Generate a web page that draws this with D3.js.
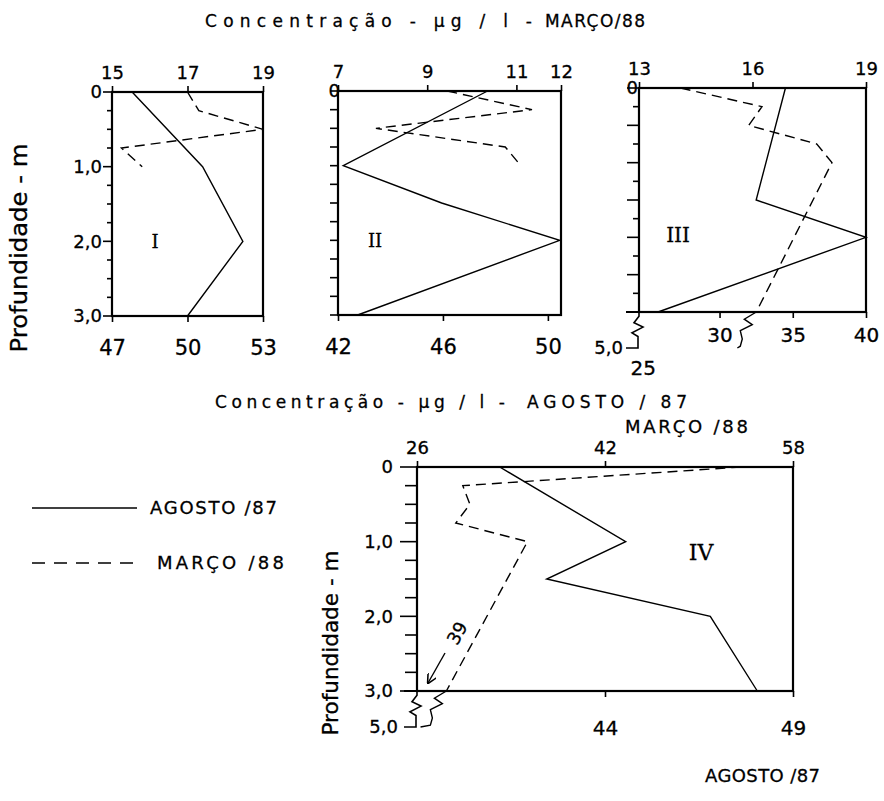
<!DOCTYPE html>
<html lang="pt">
<head>
<meta charset="UTF-8">
<title>Concentração x Profundidade</title>
<script src="https://cdn.jsdelivr.net/npm/d3@7"></script>
<style>
    body { margin: 0; background: #fff; }
    svg text { font-family: "DejaVu Sans", sans-serif; fill: #000; stroke: #000; stroke-width: 0.3px; }
    svg .roman { font-family: "DejaVu Serif", "Liberation Serif", serif; }
</style>
</head>
<body>
<div id="chart"></div>
<script>
    const width = 884
    const height = 801

    // depth (m) / concentration (ug/l)
    // I
    const agostoDepth1 = [0, 1, 2, 3]
    const agosto1 = [47.8, 50.6, 52.2, 50.0]
    const marcoDepth1 = [0, 0.25, 0.5, 0.75, 1]
    const marco1 = [17.0, 17.3, 19.0, 15.25, 15.8]
    // II
    const agostoDepth2 = [0, 1, 1.5, 2, 3]
    const agosto2 = [47.7, 42.2, 45.95, 50.45, 42.75]
    const marcoDepth2 = [0, 0.25, 0.5, 0.75, 1]
    const marco2 = [9.45, 11.35, 7.85, 10.75, 11.1]
    // III
    const agostoDepth3 = [0, 1.5, 2, 3]
    const agosto3 = [34.5, 32.5, 40.0, 25.8]
    const marcoDepth3 = [0, 0.25, 0.5, 0.75, 1, 3, 5]
    const marco3 = [14.1, 16.25, 15.9, 17.7, 18.1, 16.1, 15.6]
    // IV
    const agostoDepth4 = [0, 1, 1.5, 2, 3]
    const agosto4 = [41.2, 44.55, 42.45, 46.8, 48.05]
    const marcoDepth4 = [0, 0.25, 0.5, 0.75, 1, 3, 5]
    const marco4 = [53.6, 29.9, 30.5, 29.3, 35.4, 28.5, 26.3]

    // tick labels
    const topTicks1 = [15, 17, 19]
    const botTicks1 = [47, 50, 53]
    const topTicks2 = [7, 9, 11, 12]
    const botTicks2 = [42, 46, 50]
    const topTicks3 = [13, 16, 19]
    const botTicks3 = [30, 35, 40]
    const topTicks4 = [26, 42, 58]
    const botTicks4 = [44, 49]
    const depthTicks = d3.range(0, 3.01, 0.25)

    const panels = [
        {
            x0: 112, x1: 263, y0: 92, roman: "I", romanX: 155, romanY: 248, romanSize: 18,
            topDomain: [15, 19], topTicks: topTicks1, botDomain: [47, 53], botTicks: botTicks1,
            botFont: 21, botSpacing: 24, labelDepths: [0, 1, 2, 3], labelGap: 10,
            majorStep: 1, majorLen: 9, minorLen: 5, extended: false,
            agosto: d3.zip(agostoDepth1, agosto1), marco: d3.zip(marcoDepth1, marco1)
        },
        {
            x0: 338, x1: 561, y0: 91, roman: "II", romanX: 375, romanY: 247, romanSize: 18,
            topDomain: [7, 12], topTicks: topTicks2, botDomain: [42, 50.5], botTicks: botTicks2,
            botFont: 21, botSpacing: 24, labelDepths: [0], labelGap: -2,
            majorStep: 1, majorLen: 8, minorLen: 8, extended: false,
            agosto: d3.zip(agostoDepth2, agosto2), marco: d3.zip(marcoDepth2, marco2)
        },
        {
            x0: 639, x1: 866, y0: 88, roman: "III", romanX: 678, romanY: 242, romanSize: 20,
            topDomain: [13, 19], topTicks: topTicks3, botDomain: [24.5, 40], botTicks: botTicks3,
            botFont: 20, botSpacing: 16, labelDepths: [0], labelGap: 1, extLabelGap: 16,
            majorStep: 0.5, majorLen: 12, minorLen: 6, extended: true, extraBotLabel: 25,
            agosto: d3.zip(agostoDepth3, agosto3), marco: d3.zip(marcoDepth3, marco3)
        },
        {
            x0: 417, x1: 793, y0: 467, roman: "IV", romanX: 701, romanY: 560, romanSize: 22,
            topDomain: [26, 58], topTicks: topTicks4, botDomain: [39, 49], botTicks: botTicks4,
            botFont: 20, botSpacing: 30, labelDepths: [0, 1, 2, 3], labelGap: 24, extLabelGap: 19,
            majorStep: 1, majorLen: 17, minorLen: 12, extended: true, arrowNote: "39",
            agosto: d3.zip(agostoDepth4, agosto4), marco: d3.zip(marcoDepth4, marco4)
        }
    ]

    const svg = d3.select("#chart").append("svg")
        .attr("width", width)
        .attr("height", height)

    svg.append("defs").append("marker")
        .attr("id", "arrow")
        .attr("viewBox", "0 0 10 10")
        .attr("refX", 9).attr("refY", 5)
        .attr("markerWidth", 7).attr("markerHeight", 7)
        .attr("orient", "auto")
        .append("path")
        .attr("d", "M0,0 L10,5 L0,10")
        .attr("fill", "none")
        .attr("stroke", "#000")
        .attr("stroke-width", 1.6)

    const fmtDepth = (d) => d === 0 ? "0" : d.toFixed(1).replace(".", ",")

    // zig-zag used where the depth axis jumps from 3,0 to 5,0
    function zigzag(xa, ya, xb, yb, shape) {
        const h = yb - ya
        const pts = shape.map(s => [xa + s[0], ya + s[1] * h])
        pts.push([xb, yb])
        return d3.line()(pts)
    }

    function drawPanel(p) {
        const g = svg.append("g")

        const xTop = d3.scaleLinear().domain(p.topDomain).range([p.x0, p.x1])
        const xBot = d3.scaleLinear().domain(p.botDomain).range([p.x0, p.x1])
        const y = d3.scaleLinear().domain([0, 3, 5]).range([p.y0, p.y0 + 224, p.y0 + 260])

        // top axis (MARÇO/88)
        const top = g.append("g")
            .attr("transform", `translate(0, ${y(0)})`)
            .call(d3.axisTop(xTop).tickValues(p.topTicks).tickSize(6).tickPadding(7).tickFormat(d3.format("d")))
        top.select(".domain").remove()
        top.selectAll("line").attr("stroke-width", 1.6)
        top.selectAll("text").style("font-size", "18px")

        // bottom axis (AGOSTO/87)
        const bot = g.append("g")
            .attr("transform", `translate(0, ${y(3)})`)
            .call(d3.axisBottom(xBot).tickValues(p.botTicks).tickSize(6).tickPadding(p.botSpacing - 6).tickFormat(d3.format("d")))
        bot.select(".domain").remove()
        bot.selectAll("line").attr("stroke-width", 1.6)
        bot.selectAll("text").style("font-size", `${p.botFont}px`)

        if (p.extraBotLabel) {
            g.append("text")
                .attr("x", xBot(p.extraBotLabel) - 3)
                .attr("y", y(5) + 27)
                .attr("text-anchor", "middle")
                .style("font-size", `${p.botFont}px`)
                .text(p.extraBotLabel)
        }

        // depth ticks
        g.selectAll(".dtick")
            .data(depthTicks)
            .enter().append("line")
            .attr("x1", p.x0)
            .attr("x2", (d) => p.x0 - (Math.abs(d / p.majorStep - Math.round(d / p.majorStep)) < 1e-6 ? p.majorLen : p.minorLen))
            .attr("y1", (d) => y(d))
            .attr("y2", (d) => y(d))
            .attr("stroke", "#000")
            .attr("stroke-width", 1.6)

        g.selectAll(".dlabel")
            .data(p.labelDepths)
            .enter().append("text")
            .attr("x", p.x0 - p.labelGap)
            .attr("y", (d) => y(d))
            .attr("dy", "0.36em")
            .attr("text-anchor", "end")
            .style("font-size", "18px")
            .text(fmtDepth)

        // box
        g.append("rect")
            .attr("x", p.x0)
            .attr("y", y(0))
            .attr("width", p.x1 - p.x0)
            .attr("height", y(3) - y(0))
            .attr("fill", "none")
            .attr("stroke", "#000")
            .attr("stroke-width", 2.2)

        // AGOSTO/87 - solid
        g.append("path")
            .datum(p.agosto)
            .attr("d", d3.line().x((d) => xBot(d[1])).y((d) => y(d[0])))
            .attr("fill", "none")
            .attr("stroke", "#000")
            .attr("stroke-width", 1.4)

        // MARÇO/88 - dashed (only down to 3,0, the rest is the break)
        const marcoIn = p.marco.filter((d) => d[0] <= 3)
        g.append("path")
            .datum(marcoIn)
            .attr("d", d3.line().x((d) => xTop(d[1])).y((d) => y(d[0])))
            .attr("fill", "none")
            .attr("stroke", "#000")
            .attr("stroke-width", 1.4)
            .attr("stroke-dasharray", "10,6")

        if (p.extended) {
            // bottom line runs a little past the depth axis
            g.append("line")
                .attr("x1", p.x0 - 13).attr("x2", p.x0)
                .attr("y1", y(3)).attr("y2", y(3))
                .attr("stroke", "#000")
                .attr("stroke-width", 2)

            // axis break down to 5,0
            g.append("path")
                .attr("d", zigzag(p.x0, y(3), p.x0 - 13, y(5),
                    [[0, 0], [0, 0.12], [-5, 0.3], [4, 0.42], [-7, 0.58], [-1, 0.68], [-1, 1]]))
                .attr("fill", "none")
                .attr("stroke", "#000")
                .attr("stroke-width", 1.6)

            g.append("text")
                .attr("x", p.x0 - p.extLabelGap)
                .attr("y", y(5))
                .attr("dy", "0.36em")
                .attr("text-anchor", "end")
                .style("font-size", "18px")
                .text(fmtDepth(5))

            const last = marcoIn[marcoIn.length - 1]
            const deep = p.marco[p.marco.length - 1]
            g.append("path")
                .attr("d", zigzag(xTop(last[1]), y(last[0]), xTop(deep[1]), y(deep[0]),
                    [[0, 0], [-12, 0.2], [-4, 0.35], [-16, 0.52], [-14, 0.75], [-16, 0.95]]))
                .attr("fill", "none")
                .attr("stroke", "#000")
                .attr("stroke-width", 1.4)
        }

        if (p.arrowNote) {
            const ax = xBot(p.botDomain[0])
            const ay = y(3)
            g.append("line")
                .attr("x1", ax + 28).attr("y1", ay - 38)
                .attr("x2", ax + 11).attr("y2", ay - 8)
                .attr("stroke", "#000")
                .attr("stroke-width", 1.4)
                .attr("marker-end", "url(#arrow)")
            g.append("text")
                .attr("transform", `translate(${ax + 40}, ${ay - 58}) rotate(-60)`)
                .attr("text-anchor", "middle")
                .attr("dy", "0.36em")
                .style("font-size", "18px")
                .text(p.arrowNote)
        }

        g.append("text")
            .attr("class", "roman")
            .attr("x", p.romanX)
            .attr("y", p.romanY)
            .attr("text-anchor", "middle")
            .style("font-size", `${p.romanSize}px`)
            .text(p.roman)
    }

    panels.forEach(drawPanel)

    // titles
    function spaced(x, yPos, txt, len, size) {
        svg.append("text")
            .attr("x", x)
            .attr("y", yPos)
            .attr("textLength", len)
            .attr("lengthAdjust", "spacing")
            .style("font-size", `${size}px`)
            .text(txt)
    }

    spaced(205, 27, "Concentração - μg / l -", 327, 17)
    spaced(545, 27, "MARÇO/88", 100, 17)
    spaced(215, 408, "Concentração - μg / l -", 290, 17)
    spaced(527, 408, "AGOSTO / 87", 160, 17)
    spaced(625, 433, "MARÇO /88", 123, 18)
    spaced(705, 782, "AGOSTO /87", 115, 18)

    // depth axis titles
    const yTitles = [
        {x: 19, y: 248, len: 209, size: 23},
        {x: 330, y: 643, len: 185, size: 21}
    ]
    svg.selectAll(".ytitle")
        .data(yTitles)
        .enter().append("text")
        .attr("transform", (d) => `translate(${d.x}, ${d.y}) rotate(-90)`)
        .attr("text-anchor", "middle")
        .attr("dy", "0.36em")
        .attr("textLength", (d) => d.len)
        .attr("lengthAdjust", "spacingAndGlyphs")
        .style("font-size", (d) => `${d.size}px`)
        .text("Profundidade - m")

    // legend
    const legendItems = [
        {label: "AGOSTO /87", dash: null, y: 508, tx: 150},
        {label: "MARÇO /88", dash: "13,9", y: 563, tx: 157}
    ]
    const legend = svg.selectAll(".legend")
        .data(legendItems)
        .enter().append("g")

    legend.append("line")
        .attr("x1", 32).attr("x2", 137)
        .attr("y1", (d) => d.y).attr("y2", (d) => d.y)
        .attr("stroke", "#000")
        .attr("stroke-width", 1.4)
        .attr("stroke-dasharray", (d) => d.dash)

    legend.append("text")
        .attr("x", (d) => d.tx)
        .attr("y", (d) => d.y)
        .attr("dy", "0.36em")
        .attr("textLength", 127)
        .attr("lengthAdjust", "spacing")
        .style("font-size", "18px")
        .text((d) => d.label)
</script>
</body>
</html>
